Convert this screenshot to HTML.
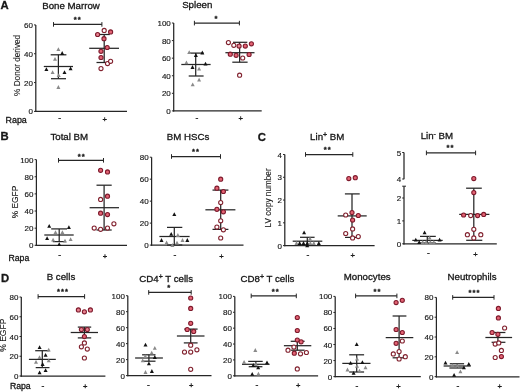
<!DOCTYPE html>
<html><head><meta charset="utf-8"><style>
html,body{margin:0;padding:0;background:#fff;}
svg{display:block;font-family:"Liberation Sans", sans-serif;will-change:transform;}
</style></head><body>
<svg width="520" height="392" viewBox="0 0 520 392">
<rect width="520" height="392" fill="#fff"/>
<line x1="35.80" y1="24.90" x2="35.80" y2="112.03" stroke="#262626" stroke-width="1.25"/>
<line x1="35.17" y1="111.40" x2="127.00" y2="111.40" stroke="#262626" stroke-width="1.25"/>
<line x1="34.00" y1="24.90" x2="35.80" y2="24.90" stroke="#262626" stroke-width="1.0"/>
<text x="32.90" y="27.90" font-size="8.0" text-anchor="end" font-weight="normal" fill="#161616" stroke="#161616" stroke-width="0.15" >60</text>
<line x1="34.00" y1="53.73" x2="35.80" y2="53.73" stroke="#262626" stroke-width="1.0"/>
<text x="32.90" y="56.74" font-size="8.0" text-anchor="end" font-weight="normal" fill="#161616" stroke="#161616" stroke-width="0.15" >40</text>
<line x1="34.00" y1="82.57" x2="35.80" y2="82.57" stroke="#262626" stroke-width="1.0"/>
<text x="32.90" y="85.57" font-size="8.0" text-anchor="end" font-weight="normal" fill="#161616" stroke="#161616" stroke-width="0.15" >20</text>
<line x1="34.00" y1="111.40" x2="35.80" y2="111.40" stroke="#262626" stroke-width="1.0"/>
<text x="32.90" y="114.40" font-size="8.0" text-anchor="end" font-weight="normal" fill="#161616" stroke="#161616" stroke-width="0.15" >0</text>
<text x="71.00" y="9.00" font-size="9.7" text-anchor="middle" font-weight="normal" fill="#161616" stroke="#161616" stroke-width="0.3" >Bone Marrow</text>
<line x1="53.50" y1="24.40" x2="101.90" y2="24.40" stroke="#262626" stroke-width="1.25"/>
<line x1="53.50" y1="22.10" x2="53.50" y2="26.70" stroke="#262626" stroke-width="1.0"/>
<line x1="101.90" y1="22.10" x2="101.90" y2="26.70" stroke="#262626" stroke-width="1.0"/>
<text x="75.20" y="22.22" font-size="7.6" text-anchor="middle" font-weight="bold" fill="#161616" stroke="#161616" stroke-width="0.3" >*</text>
<text x="79.20" y="22.22" font-size="7.6" text-anchor="middle" font-weight="bold" fill="#161616" stroke="#161616" stroke-width="0.3" >*</text>
<text x="59.60" y="121.26" font-size="8.5" text-anchor="middle" font-weight="normal" fill="#161616" stroke="#161616" stroke-width="0.3" >-</text>
<text x="104.80" y="121.72" font-size="7.6" text-anchor="middle" font-weight="normal" fill="#161616" stroke="#161616" stroke-width="0.3" >+</text>
<line x1="43.80" y1="66.50" x2="73.00" y2="66.50" stroke="#262626" stroke-width="1.25"/>
<line x1="50.70" y1="54.80" x2="66.40" y2="54.80" stroke="#262626" stroke-width="1.25"/>
<line x1="51.00" y1="78.70" x2="66.00" y2="78.70" stroke="#262626" stroke-width="1.25"/>
<line x1="58.40" y1="54.80" x2="58.40" y2="78.70" stroke="#262626" stroke-width="1.25"/>
<path d="M56.40,51.10L58.40,47.30L60.40,51.10Z" fill="#8a8a8a"/>
<path d="M60.20,54.90L62.20,51.10L64.20,54.90Z" fill="#121212"/>
<path d="M53.00,60.70L55.00,56.90L57.00,60.70Z" fill="#8a8a8a"/>
<path d="M44.40,71.00L46.40,67.20L48.40,71.00Z" fill="#121212"/>
<path d="M68.60,70.20L70.60,66.40L72.60,70.20Z" fill="#121212"/>
<path d="M50.60,74.00L52.60,70.20L54.60,74.00Z" fill="#8a8a8a"/>
<path d="M62.50,74.00L64.50,70.20L66.50,74.00Z" fill="#121212"/>
<path d="M56.70,77.10L58.70,73.30L60.70,77.10Z" fill="#8a8a8a"/>
<path d="M56.40,88.90L58.40,85.10L60.40,88.90Z" fill="#8a8a8a"/>
<line x1="89.20" y1="48.30" x2="119.00" y2="48.30" stroke="#262626" stroke-width="1.25"/>
<line x1="98.30" y1="34.50" x2="109.80" y2="34.50" stroke="#262626" stroke-width="1.25"/>
<line x1="96.50" y1="62.50" x2="111.30" y2="62.50" stroke="#262626" stroke-width="1.25"/>
<line x1="104.20" y1="34.50" x2="104.20" y2="62.50" stroke="#262626" stroke-width="1.25"/>
<circle cx="104.2" cy="30.4" r="2.05" fill="#ffffff" stroke="#82222f" stroke-width="1.1"/>
<circle cx="97.6" cy="34.5" r="2.05" fill="#e98290" stroke="#7e1a2c" stroke-width="1.1"/>
<circle cx="110.6" cy="31.9" r="2.05" fill="#e46474" stroke="#7e1a2c" stroke-width="1.1"/>
<circle cx="104" cy="38.7" r="2.05" fill="#e46474" stroke="#7e1a2c" stroke-width="1.1"/>
<circle cx="107.2" cy="47.5" r="2.05" fill="#e46474" stroke="#7e1a2c" stroke-width="1.1"/>
<circle cx="101" cy="51.3" r="2.05" fill="#e46474" stroke="#7e1a2c" stroke-width="1.1"/>
<circle cx="101" cy="57.5" r="2.05" fill="#e46474" stroke="#7e1a2c" stroke-width="1.1"/>
<circle cx="107.5" cy="63.6" r="2.05" fill="#ffffff" stroke="#82222f" stroke-width="1.1"/>
<circle cx="110.6" cy="61.3" r="2.05" fill="#ffffff" stroke="#82222f" stroke-width="1.1"/>
<circle cx="101" cy="68.6" r="2.05" fill="#ffffff" stroke="#82222f" stroke-width="1.1"/>
<line x1="173.70" y1="23.00" x2="173.70" y2="111.53" stroke="#262626" stroke-width="1.25"/>
<line x1="173.07" y1="110.90" x2="261.70" y2="110.90" stroke="#262626" stroke-width="1.25"/>
<line x1="171.90" y1="23.00" x2="173.70" y2="23.00" stroke="#262626" stroke-width="1.0"/>
<text x="170.80" y="26.00" font-size="8.0" text-anchor="end" font-weight="normal" fill="#161616" stroke="#161616" stroke-width="0.15" >100</text>
<line x1="171.90" y1="40.58" x2="173.70" y2="40.58" stroke="#262626" stroke-width="1.0"/>
<text x="170.80" y="43.58" font-size="8.0" text-anchor="end" font-weight="normal" fill="#161616" stroke="#161616" stroke-width="0.15" >80</text>
<line x1="171.90" y1="58.16" x2="173.70" y2="58.16" stroke="#262626" stroke-width="1.0"/>
<text x="170.80" y="61.16" font-size="8.0" text-anchor="end" font-weight="normal" fill="#161616" stroke="#161616" stroke-width="0.15" >60</text>
<line x1="171.90" y1="75.74" x2="173.70" y2="75.74" stroke="#262626" stroke-width="1.0"/>
<text x="170.80" y="78.74" font-size="8.0" text-anchor="end" font-weight="normal" fill="#161616" stroke="#161616" stroke-width="0.15" >40</text>
<line x1="171.90" y1="93.32" x2="173.70" y2="93.32" stroke="#262626" stroke-width="1.0"/>
<text x="170.80" y="96.32" font-size="8.0" text-anchor="end" font-weight="normal" fill="#161616" stroke="#161616" stroke-width="0.15" >20</text>
<line x1="171.90" y1="110.90" x2="173.70" y2="110.90" stroke="#262626" stroke-width="1.0"/>
<text x="170.80" y="113.90" font-size="8.0" text-anchor="end" font-weight="normal" fill="#161616" stroke="#161616" stroke-width="0.15" >0</text>
<text x="197.25" y="8.20" font-size="9.7" text-anchor="middle" font-weight="normal" fill="#161616" stroke="#161616" stroke-width="0.3" >Spleen</text>
<line x1="194.40" y1="23.10" x2="239.40" y2="23.10" stroke="#262626" stroke-width="1.25"/>
<line x1="194.40" y1="20.80" x2="194.40" y2="25.40" stroke="#262626" stroke-width="1.0"/>
<line x1="239.40" y1="20.80" x2="239.40" y2="25.40" stroke="#262626" stroke-width="1.0"/>
<text x="216.00" y="21.22" font-size="7.6" text-anchor="middle" font-weight="bold" fill="#161616" stroke="#161616" stroke-width="0.3" >*</text>
<text x="197.00" y="121.26" font-size="8.5" text-anchor="middle" font-weight="normal" fill="#161616" stroke="#161616" stroke-width="0.3" >-</text>
<text x="240.60" y="120.82" font-size="7.6" text-anchor="middle" font-weight="normal" fill="#161616" stroke="#161616" stroke-width="0.3" >+</text>
<line x1="181.30" y1="64.50" x2="210.60" y2="64.50" stroke="#262626" stroke-width="1.25"/>
<line x1="189.20" y1="53.10" x2="203.60" y2="53.10" stroke="#262626" stroke-width="1.25"/>
<line x1="188.70" y1="76.00" x2="203.60" y2="76.00" stroke="#262626" stroke-width="1.25"/>
<line x1="195.70" y1="53.10" x2="195.70" y2="76.00" stroke="#262626" stroke-width="1.25"/>
<path d="M187.20,54.00L189.20,50.20L191.20,54.00Z" fill="#8a8a8a"/>
<path d="M200.30,54.40L202.30,50.60L204.30,54.40Z" fill="#121212"/>
<path d="M193.90,56.90L195.90,53.10L197.90,56.90Z" fill="#121212"/>
<path d="M184.40,64.20L186.40,60.40L188.40,64.20Z" fill="#8a8a8a"/>
<path d="M203.50,65.50L205.50,61.70L207.50,65.50Z" fill="#121212"/>
<path d="M190.50,68.90L192.50,65.10L194.50,68.90Z" fill="#121212"/>
<path d="M197.10,70.60L199.10,66.80L201.10,70.60Z" fill="#8a8a8a"/>
<path d="M197.10,81.60L199.10,77.80L201.10,81.60Z" fill="#8a8a8a"/>
<path d="M190.70,86.20L192.70,82.40L194.70,86.20Z" fill="#8a8a8a"/>
<line x1="225.40" y1="52.70" x2="254.50" y2="52.70" stroke="#262626" stroke-width="1.25"/>
<line x1="233.00" y1="42.30" x2="247.30" y2="42.30" stroke="#262626" stroke-width="1.25"/>
<line x1="232.30" y1="62.20" x2="247.60" y2="62.20" stroke="#262626" stroke-width="1.25"/>
<line x1="239.60" y1="42.30" x2="239.60" y2="62.20" stroke="#262626" stroke-width="1.25"/>
<circle cx="228.4" cy="42.6" r="2.05" fill="#ffffff" stroke="#82222f" stroke-width="1.1"/>
<circle cx="233.8" cy="45.3" r="2.05" fill="#ffffff" stroke="#82222f" stroke-width="1.1"/>
<circle cx="239.1" cy="46.1" r="2.05" fill="#e98290" stroke="#7e1a2c" stroke-width="1.1"/>
<circle cx="245.3" cy="46.1" r="2.05" fill="#e46474" stroke="#7e1a2c" stroke-width="1.1"/>
<circle cx="251.4" cy="43.8" r="2.05" fill="#e46474" stroke="#7e1a2c" stroke-width="1.1"/>
<circle cx="230.3" cy="54.2" r="2.05" fill="#e46474" stroke="#7e1a2c" stroke-width="1.1"/>
<circle cx="236.1" cy="55.3" r="2.05" fill="#e46474" stroke="#7e1a2c" stroke-width="1.1"/>
<circle cx="242.7" cy="58" r="2.05" fill="#ffffff" stroke="#82222f" stroke-width="1.1"/>
<circle cx="249.1" cy="54.5" r="2.05" fill="#e46474" stroke="#7e1a2c" stroke-width="1.1"/>
<circle cx="239.6" cy="75.2" r="2.05" fill="#ffffff" stroke="#82222f" stroke-width="1.1"/>
<line x1="36.40" y1="159.60" x2="36.40" y2="245.93" stroke="#262626" stroke-width="1.25"/>
<line x1="35.77" y1="245.30" x2="127.00" y2="245.30" stroke="#262626" stroke-width="1.25"/>
<line x1="34.60" y1="159.60" x2="36.40" y2="159.60" stroke="#262626" stroke-width="1.0"/>
<text x="33.50" y="162.60" font-size="8.0" text-anchor="end" font-weight="normal" fill="#161616" stroke="#161616" stroke-width="0.15" >100</text>
<line x1="34.60" y1="176.74" x2="36.40" y2="176.74" stroke="#262626" stroke-width="1.0"/>
<text x="33.50" y="179.74" font-size="8.0" text-anchor="end" font-weight="normal" fill="#161616" stroke="#161616" stroke-width="0.15" >80</text>
<line x1="34.60" y1="193.88" x2="36.40" y2="193.88" stroke="#262626" stroke-width="1.0"/>
<text x="33.50" y="196.88" font-size="8.0" text-anchor="end" font-weight="normal" fill="#161616" stroke="#161616" stroke-width="0.15" >60</text>
<line x1="34.60" y1="211.02" x2="36.40" y2="211.02" stroke="#262626" stroke-width="1.0"/>
<text x="33.50" y="214.02" font-size="8.0" text-anchor="end" font-weight="normal" fill="#161616" stroke="#161616" stroke-width="0.15" >40</text>
<line x1="34.60" y1="228.16" x2="36.40" y2="228.16" stroke="#262626" stroke-width="1.0"/>
<text x="33.50" y="231.16" font-size="8.0" text-anchor="end" font-weight="normal" fill="#161616" stroke="#161616" stroke-width="0.15" >20</text>
<line x1="34.60" y1="245.30" x2="36.40" y2="245.30" stroke="#262626" stroke-width="1.0"/>
<text x="33.50" y="248.30" font-size="8.0" text-anchor="end" font-weight="normal" fill="#161616" stroke="#161616" stroke-width="0.15" >0</text>
<text x="69.25" y="140.30" font-size="9.7" text-anchor="middle" font-weight="normal" fill="#161616" stroke="#161616" stroke-width="0.3" >Total BM</text>
<line x1="58.50" y1="160.30" x2="103.50" y2="160.30" stroke="#262626" stroke-width="1.25"/>
<line x1="58.50" y1="158.00" x2="58.50" y2="162.60" stroke="#262626" stroke-width="1.0"/>
<line x1="103.50" y1="158.00" x2="103.50" y2="162.60" stroke="#262626" stroke-width="1.0"/>
<text x="79.20" y="158.82" font-size="7.6" text-anchor="middle" font-weight="bold" fill="#161616" stroke="#161616" stroke-width="0.3" >*</text>
<text x="83.20" y="158.82" font-size="7.6" text-anchor="middle" font-weight="bold" fill="#161616" stroke="#161616" stroke-width="0.3" >*</text>
<text x="59.60" y="257.66" font-size="8.5" text-anchor="middle" font-weight="normal" fill="#161616" stroke="#161616" stroke-width="0.3" >-</text>
<text x="105.00" y="258.62" font-size="7.6" text-anchor="middle" font-weight="normal" fill="#161616" stroke="#161616" stroke-width="0.3" >+</text>
<line x1="44.30" y1="235.00" x2="73.70" y2="235.00" stroke="#262626" stroke-width="1.25"/>
<line x1="51.20" y1="228.90" x2="67.00" y2="228.90" stroke="#262626" stroke-width="1.25"/>
<line x1="52.80" y1="241.60" x2="66.00" y2="241.60" stroke="#262626" stroke-width="1.25"/>
<line x1="59.20" y1="228.90" x2="59.20" y2="241.60" stroke="#262626" stroke-width="1.25"/>
<path d="M47.20,227.70L49.20,223.90L51.20,227.70Z" fill="#121212"/>
<path d="M66.90,229.00L68.90,225.20L70.90,229.00Z" fill="#121212"/>
<path d="M53.50,234.10L55.50,230.30L57.50,234.10Z" fill="#8a8a8a"/>
<path d="M60.40,234.10L62.40,230.30L64.40,234.10Z" fill="#8a8a8a"/>
<path d="M45.10,240.00L47.10,236.20L49.10,240.00Z" fill="#121212"/>
<path d="M51.10,241.50L53.10,237.70L55.10,241.50Z" fill="#8a8a8a"/>
<path d="M63.00,242.50L65.00,238.70L67.00,242.50Z" fill="#8a8a8a"/>
<path d="M68.60,241.00L70.60,237.20L72.60,241.00Z" fill="#8a8a8a"/>
<path d="M57.20,246.10L59.20,242.30L61.20,246.10Z" fill="#121212"/>
<line x1="89.60" y1="207.70" x2="119.00" y2="207.70" stroke="#262626" stroke-width="1.25"/>
<line x1="96.50" y1="185.20" x2="111.70" y2="185.20" stroke="#262626" stroke-width="1.25"/>
<line x1="96.50" y1="230.00" x2="111.70" y2="230.00" stroke="#262626" stroke-width="1.25"/>
<line x1="104.10" y1="185.20" x2="104.10" y2="230.00" stroke="#262626" stroke-width="1.25"/>
<circle cx="100.6" cy="170.3" r="2.05" fill="#e46474" stroke="#7e1a2c" stroke-width="1.1"/>
<circle cx="107.5" cy="171.9" r="2.05" fill="#e46474" stroke="#7e1a2c" stroke-width="1.1"/>
<circle cx="107.5" cy="196.2" r="2.05" fill="#e46474" stroke="#7e1a2c" stroke-width="1.1"/>
<circle cx="100.6" cy="199.4" r="2.05" fill="#ffffff" stroke="#82222f" stroke-width="1.1"/>
<circle cx="100.6" cy="213.2" r="2.05" fill="#e46474" stroke="#7e1a2c" stroke-width="1.1"/>
<circle cx="107.5" cy="214.6" r="2.05" fill="#e46474" stroke="#7e1a2c" stroke-width="1.1"/>
<circle cx="113.9" cy="223.8" r="2.05" fill="#ffffff" stroke="#82222f" stroke-width="1.1"/>
<circle cx="94.2" cy="228.1" r="2.05" fill="#ffffff" stroke="#82222f" stroke-width="1.1"/>
<circle cx="100.6" cy="229.3" r="2.05" fill="#ffffff" stroke="#82222f" stroke-width="1.1"/>
<circle cx="107.5" cy="228.1" r="2.05" fill="#ffffff" stroke="#82222f" stroke-width="1.1"/>
<line x1="151.60" y1="157.20" x2="151.60" y2="245.72" stroke="#262626" stroke-width="1.25"/>
<line x1="150.97" y1="245.10" x2="243.50" y2="245.10" stroke="#262626" stroke-width="1.25"/>
<line x1="149.80" y1="157.20" x2="151.60" y2="157.20" stroke="#262626" stroke-width="1.0"/>
<text x="148.70" y="160.20" font-size="8.0" text-anchor="end" font-weight="normal" fill="#161616" stroke="#161616" stroke-width="0.15" >80</text>
<line x1="149.80" y1="179.17" x2="151.60" y2="179.17" stroke="#262626" stroke-width="1.0"/>
<text x="148.70" y="182.18" font-size="8.0" text-anchor="end" font-weight="normal" fill="#161616" stroke="#161616" stroke-width="0.15" >60</text>
<line x1="149.80" y1="201.15" x2="151.60" y2="201.15" stroke="#262626" stroke-width="1.0"/>
<text x="148.70" y="204.15" font-size="8.0" text-anchor="end" font-weight="normal" fill="#161616" stroke="#161616" stroke-width="0.15" >40</text>
<line x1="149.80" y1="223.12" x2="151.60" y2="223.12" stroke="#262626" stroke-width="1.0"/>
<text x="148.70" y="226.13" font-size="8.0" text-anchor="end" font-weight="normal" fill="#161616" stroke="#161616" stroke-width="0.15" >20</text>
<line x1="149.80" y1="245.10" x2="151.60" y2="245.10" stroke="#262626" stroke-width="1.0"/>
<text x="148.70" y="248.10" font-size="8.0" text-anchor="end" font-weight="normal" fill="#161616" stroke="#161616" stroke-width="0.15" >0</text>
<text x="188.00" y="139.50" font-size="9.7" text-anchor="middle" font-weight="normal" fill="#161616" stroke="#161616" stroke-width="0.3" >BM HSCs</text>
<line x1="171.50" y1="156.50" x2="220.50" y2="156.50" stroke="#262626" stroke-width="1.25"/>
<line x1="171.50" y1="154.20" x2="171.50" y2="158.80" stroke="#262626" stroke-width="1.0"/>
<line x1="220.50" y1="154.20" x2="220.50" y2="158.80" stroke="#262626" stroke-width="1.0"/>
<text x="193.60" y="153.82" font-size="7.6" text-anchor="middle" font-weight="bold" fill="#161616" stroke="#161616" stroke-width="0.3" >*</text>
<text x="197.60" y="153.82" font-size="7.6" text-anchor="middle" font-weight="bold" fill="#161616" stroke="#161616" stroke-width="0.3" >*</text>
<text x="174.90" y="257.56" font-size="8.5" text-anchor="middle" font-weight="normal" fill="#161616" stroke="#161616" stroke-width="0.3" >-</text>
<text x="221.50" y="258.62" font-size="7.6" text-anchor="middle" font-weight="normal" fill="#161616" stroke="#161616" stroke-width="0.3" >+</text>
<line x1="159.40" y1="236.50" x2="189.60" y2="236.50" stroke="#262626" stroke-width="1.25"/>
<line x1="167.00" y1="227.40" x2="182.30" y2="227.40" stroke="#262626" stroke-width="1.25"/>
<line x1="167.00" y1="245.00" x2="182.30" y2="245.00" stroke="#262626" stroke-width="1.25"/>
<line x1="174.30" y1="227.40" x2="174.30" y2="245.00" stroke="#262626" stroke-width="1.25"/>
<path d="M172.30,216.10L174.30,212.30L176.30,216.10Z" fill="#121212"/>
<path d="M169.20,235.80L171.20,232.00L173.20,235.80Z" fill="#121212"/>
<path d="M175.90,236.90L177.90,233.10L179.90,236.90Z" fill="#8a8a8a"/>
<path d="M159.50,241.90L161.50,238.10L163.50,241.90Z" fill="#121212"/>
<path d="M180.50,241.90L182.50,238.10L184.50,241.90Z" fill="#8a8a8a"/>
<path d="M185.30,241.90L187.30,238.10L189.30,241.90Z" fill="#121212"/>
<path d="M164.60,244.20L166.60,240.40L168.60,244.20Z" fill="#8a8a8a"/>
<path d="M175.00,244.50L177.00,240.70L179.00,244.50Z" fill="#8a8a8a"/>
<path d="M170.40,246.90L172.40,243.10L174.40,246.90Z" fill="#8a8a8a"/>
<line x1="205.40" y1="209.80" x2="235.40" y2="209.80" stroke="#262626" stroke-width="1.25"/>
<line x1="212.50" y1="190.10" x2="228.40" y2="190.10" stroke="#262626" stroke-width="1.25"/>
<line x1="212.50" y1="229.40" x2="228.40" y2="229.40" stroke="#262626" stroke-width="1.25"/>
<line x1="220.70" y1="190.10" x2="220.70" y2="229.40" stroke="#262626" stroke-width="1.25"/>
<circle cx="220.7" cy="179.2" r="2.05" fill="#e46474" stroke="#7e1a2c" stroke-width="1.1"/>
<circle cx="216.9" cy="188.2" r="2.05" fill="#e46474" stroke="#7e1a2c" stroke-width="1.1"/>
<circle cx="223.4" cy="191.5" r="2.05" fill="#e46474" stroke="#7e1a2c" stroke-width="1.1"/>
<circle cx="220.7" cy="202.6" r="2.05" fill="#ffffff" stroke="#82222f" stroke-width="1.1"/>
<circle cx="216.9" cy="209.3" r="2.05" fill="#e46474" stroke="#7e1a2c" stroke-width="1.1"/>
<circle cx="223.4" cy="211.8" r="2.05" fill="#e46474" stroke="#7e1a2c" stroke-width="1.1"/>
<circle cx="220.7" cy="220.8" r="2.05" fill="#ffffff" stroke="#82222f" stroke-width="1.1"/>
<circle cx="216.9" cy="227.1" r="2.05" fill="#ffffff" stroke="#82222f" stroke-width="1.1"/>
<circle cx="223.4" cy="229.8" r="2.05" fill="#ffffff" stroke="#82222f" stroke-width="1.1"/>
<circle cx="220.7" cy="238" r="2.05" fill="#ffffff" stroke="#82222f" stroke-width="1.1"/>
<line x1="284.80" y1="154.50" x2="284.80" y2="246.22" stroke="#262626" stroke-width="1.25"/>
<line x1="284.18" y1="245.60" x2="374.60" y2="245.60" stroke="#262626" stroke-width="1.25"/>
<line x1="283.00" y1="154.50" x2="284.80" y2="154.50" stroke="#262626" stroke-width="1.0"/>
<text x="281.90" y="157.50" font-size="8.0" text-anchor="end" font-weight="normal" fill="#161616" stroke="#161616" stroke-width="0.15" >4</text>
<line x1="283.00" y1="177.28" x2="284.80" y2="177.28" stroke="#262626" stroke-width="1.0"/>
<text x="281.90" y="180.28" font-size="8.0" text-anchor="end" font-weight="normal" fill="#161616" stroke="#161616" stroke-width="0.15" >3</text>
<line x1="283.00" y1="200.05" x2="284.80" y2="200.05" stroke="#262626" stroke-width="1.0"/>
<text x="281.90" y="203.05" font-size="8.0" text-anchor="end" font-weight="normal" fill="#161616" stroke="#161616" stroke-width="0.15" >2</text>
<line x1="283.00" y1="222.82" x2="284.80" y2="222.82" stroke="#262626" stroke-width="1.0"/>
<text x="281.90" y="225.83" font-size="8.0" text-anchor="end" font-weight="normal" fill="#161616" stroke="#161616" stroke-width="0.15" >1</text>
<line x1="283.00" y1="245.60" x2="284.80" y2="245.60" stroke="#262626" stroke-width="1.0"/>
<text x="281.90" y="248.60" font-size="8.0" text-anchor="end" font-weight="normal" fill="#161616" stroke="#161616" stroke-width="0.15" >0</text>
<text x="327.25" y="139.80" font-size="9.7" text-anchor="middle" font-weight="normal" fill="#161616" stroke="#161616" stroke-width="0.3" >Lin<tspan font-size="7" dy="-2.6">+</tspan><tspan dy="2.6"> BM</tspan></text>
<line x1="305.50" y1="154.50" x2="352.80" y2="154.50" stroke="#262626" stroke-width="1.25"/>
<line x1="305.50" y1="152.20" x2="305.50" y2="156.80" stroke="#262626" stroke-width="1.0"/>
<line x1="352.80" y1="152.20" x2="352.80" y2="156.80" stroke="#262626" stroke-width="1.0"/>
<text x="325.20" y="152.42" font-size="7.6" text-anchor="middle" font-weight="bold" fill="#161616" stroke="#161616" stroke-width="0.3" >*</text>
<text x="329.20" y="152.42" font-size="7.6" text-anchor="middle" font-weight="bold" fill="#161616" stroke="#161616" stroke-width="0.3" >*</text>
<text x="308.00" y="257.66" font-size="8.5" text-anchor="middle" font-weight="normal" fill="#161616" stroke="#161616" stroke-width="0.3" >-</text>
<text x="352.80" y="258.22" font-size="7.6" text-anchor="middle" font-weight="normal" fill="#161616" stroke="#161616" stroke-width="0.3" >+</text>
<line x1="292.70" y1="241.20" x2="322.30" y2="241.20" stroke="#262626" stroke-width="1.25"/>
<line x1="300.00" y1="237.30" x2="314.60" y2="237.30" stroke="#262626" stroke-width="1.25"/>
<line x1="300.00" y1="245.00" x2="314.60" y2="245.00" stroke="#262626" stroke-width="1.25"/>
<line x1="307.30" y1="237.30" x2="307.30" y2="245.00" stroke="#262626" stroke-width="1.25"/>
<path d="M302.10,234.20L304.10,230.40L306.10,234.20Z" fill="#121212"/>
<path d="M308.00,240.40L310.00,236.60L312.00,240.40Z" fill="#8a8a8a"/>
<path d="M294.50,244.90L296.50,241.10L298.50,244.90Z" fill="#8a8a8a"/>
<path d="M297.60,244.90L299.60,241.10L301.60,244.90Z" fill="#121212"/>
<path d="M301.50,244.90L303.50,241.10L305.50,244.90Z" fill="#121212"/>
<path d="M305.30,244.90L307.30,241.10L309.30,244.90Z" fill="#121212"/>
<path d="M308.40,244.90L310.40,241.10L312.40,244.90Z" fill="#8a8a8a"/>
<path d="M311.80,244.90L313.80,241.10L315.80,244.90Z" fill="#8a8a8a"/>
<path d="M316.80,244.90L318.80,241.10L320.80,244.90Z" fill="#121212"/>
<path d="M305.20,247.30L307.20,243.50L309.20,247.30Z" fill="#121212"/>
<line x1="337.70" y1="215.90" x2="366.70" y2="215.90" stroke="#262626" stroke-width="1.25"/>
<line x1="344.90" y1="193.90" x2="359.70" y2="193.90" stroke="#262626" stroke-width="1.25"/>
<line x1="345.00" y1="237.40" x2="360.00" y2="237.40" stroke="#262626" stroke-width="1.25"/>
<line x1="352.00" y1="193.90" x2="352.00" y2="237.40" stroke="#262626" stroke-width="1.25"/>
<circle cx="348.8" cy="178.6" r="2.05" fill="#e46474" stroke="#7e1a2c" stroke-width="1.1"/>
<circle cx="355.3" cy="177.7" r="2.05" fill="#e46474" stroke="#7e1a2c" stroke-width="1.1"/>
<circle cx="352" cy="212.5" r="2.05" fill="#e46474" stroke="#7e1a2c" stroke-width="1.1"/>
<circle cx="345.7" cy="215" r="2.05" fill="#ffffff" stroke="#82222f" stroke-width="1.1"/>
<circle cx="358.3" cy="215.5" r="2.05" fill="#e46474" stroke="#7e1a2c" stroke-width="1.1"/>
<circle cx="352.6" cy="220.1" r="2.05" fill="#e46474" stroke="#7e1a2c" stroke-width="1.1"/>
<circle cx="352.6" cy="228.9" r="2.05" fill="#ffffff" stroke="#82222f" stroke-width="1.1"/>
<circle cx="345.7" cy="233.5" r="2.05" fill="#ffffff" stroke="#82222f" stroke-width="1.1"/>
<circle cx="352.6" cy="237.9" r="2.05" fill="#ffffff" stroke="#82222f" stroke-width="1.1"/>
<circle cx="358.3" cy="236.6" r="2.05" fill="#ffffff" stroke="#82222f" stroke-width="1.1"/>
<line x1="404.00" y1="152.50" x2="404.00" y2="179.20" stroke="#262626" stroke-width="1.25"/>
<line x1="404.00" y1="186.20" x2="404.00" y2="244.40" stroke="#262626" stroke-width="1.25"/>
<line x1="403.38" y1="243.80" x2="496.80" y2="243.80" stroke="#262626" stroke-width="1.25"/>
<line x1="402.20" y1="152.50" x2="404.00" y2="152.50" stroke="#262626" stroke-width="1.0"/>
<text x="401.10" y="155.50" font-size="8.0" text-anchor="end" font-weight="normal" fill="#161616" stroke="#161616" stroke-width="0.15" >5</text>
<line x1="402.20" y1="179.00" x2="404.00" y2="179.00" stroke="#262626" stroke-width="1.0"/>
<text x="401.10" y="182.00" font-size="8.0" text-anchor="end" font-weight="normal" fill="#161616" stroke="#161616" stroke-width="0.15" >4</text>
<line x1="402.20" y1="198.00" x2="404.00" y2="198.00" stroke="#262626" stroke-width="1.0"/>
<text x="401.10" y="201.00" font-size="8.0" text-anchor="end" font-weight="normal" fill="#161616" stroke="#161616" stroke-width="0.15" >2</text>
<line x1="402.20" y1="220.90" x2="404.00" y2="220.90" stroke="#262626" stroke-width="1.0"/>
<text x="401.10" y="223.90" font-size="8.0" text-anchor="end" font-weight="normal" fill="#161616" stroke="#161616" stroke-width="0.15" >1</text>
<line x1="402.20" y1="243.80" x2="404.00" y2="243.80" stroke="#262626" stroke-width="1.0"/>
<text x="401.10" y="246.80" font-size="8.0" text-anchor="end" font-weight="normal" fill="#161616" stroke="#161616" stroke-width="0.15" >0</text>
<line x1="402.20" y1="186.20" x2="406.00" y2="186.20" stroke="#262626" stroke-width="1.0"/>
<text x="436.90" y="139.00" font-size="9.7" text-anchor="middle" font-weight="normal" fill="#161616" stroke="#161616" stroke-width="0.3" >Lin<tspan font-size="7" dy="-2.6">-</tspan><tspan dy="2.6"> BM</tspan></text>
<line x1="426.40" y1="152.90" x2="475.60" y2="152.90" stroke="#262626" stroke-width="1.25"/>
<line x1="426.40" y1="150.60" x2="426.40" y2="155.20" stroke="#262626" stroke-width="1.0"/>
<line x1="475.60" y1="150.60" x2="475.60" y2="155.20" stroke="#262626" stroke-width="1.0"/>
<text x="448.00" y="150.12" font-size="7.6" text-anchor="middle" font-weight="bold" fill="#161616" stroke="#161616" stroke-width="0.3" >*</text>
<text x="452.00" y="150.12" font-size="7.6" text-anchor="middle" font-weight="bold" fill="#161616" stroke="#161616" stroke-width="0.3" >*</text>
<text x="428.50" y="256.06" font-size="8.5" text-anchor="middle" font-weight="normal" fill="#161616" stroke="#161616" stroke-width="0.3" >-</text>
<text x="475.40" y="256.72" font-size="7.6" text-anchor="middle" font-weight="normal" fill="#161616" stroke="#161616" stroke-width="0.3" >+</text>
<line x1="412.30" y1="240.40" x2="442.70" y2="240.40" stroke="#262626" stroke-width="1.25"/>
<line x1="420.00" y1="236.40" x2="435.80" y2="236.40" stroke="#262626" stroke-width="1.25"/>
<line x1="420.00" y1="243.00" x2="435.80" y2="243.00" stroke="#262626" stroke-width="1.25"/>
<line x1="427.30" y1="236.40" x2="427.30" y2="243.00" stroke="#262626" stroke-width="1.25"/>
<path d="M422.60,234.20L424.60,230.40L426.60,234.20Z" fill="#121212"/>
<path d="M427.60,239.60L429.60,235.80L431.60,239.60Z" fill="#8a8a8a"/>
<path d="M413.80,241.50L415.80,237.70L417.80,241.50Z" fill="#121212"/>
<path d="M437.60,241.50L439.60,237.70L441.60,241.50Z" fill="#121212"/>
<path d="M417.20,243.90L419.20,240.10L421.20,243.90Z" fill="#121212"/>
<path d="M420.70,243.90L422.70,240.10L424.70,243.90Z" fill="#8a8a8a"/>
<path d="M424.20,243.90L426.20,240.10L428.20,243.90Z" fill="#8a8a8a"/>
<path d="M428.40,243.90L430.40,240.10L432.40,243.90Z" fill="#8a8a8a"/>
<path d="M431.80,243.90L433.80,240.10L435.80,243.90Z" fill="#8a8a8a"/>
<line x1="459.20" y1="214.40" x2="489.40" y2="214.40" stroke="#262626" stroke-width="1.25"/>
<line x1="466.10" y1="188.20" x2="481.80" y2="188.20" stroke="#262626" stroke-width="1.25"/>
<line x1="466.20" y1="240.30" x2="482.30" y2="240.30" stroke="#262626" stroke-width="1.25"/>
<line x1="473.80" y1="188.20" x2="473.80" y2="240.30" stroke="#262626" stroke-width="1.25"/>
<circle cx="473.8" cy="178.6" r="2.05" fill="#e46474" stroke="#7e1a2c" stroke-width="1.1"/>
<circle cx="473.8" cy="192.6" r="2.05" fill="#e46474" stroke="#7e1a2c" stroke-width="1.1"/>
<circle cx="463.6" cy="215" r="2.05" fill="#e46474" stroke="#7e1a2c" stroke-width="1.1"/>
<circle cx="470.7" cy="215.6" r="2.05" fill="#ffffff" stroke="#82222f" stroke-width="1.1"/>
<circle cx="477.6" cy="215.6" r="2.05" fill="#e46474" stroke="#7e1a2c" stroke-width="1.1"/>
<circle cx="483.7" cy="214.4" r="2.05" fill="#e46474" stroke="#7e1a2c" stroke-width="1.1"/>
<circle cx="473.8" cy="229.3" r="2.05" fill="#ffffff" stroke="#82222f" stroke-width="1.1"/>
<circle cx="467.4" cy="234.7" r="2.05" fill="#ffffff" stroke="#82222f" stroke-width="1.1"/>
<circle cx="480.8" cy="234.7" r="2.05" fill="#ffffff" stroke="#82222f" stroke-width="1.1"/>
<circle cx="473.8" cy="237.9" r="2.05" fill="#ffffff" stroke="#82222f" stroke-width="1.1"/>
<line x1="21.30" y1="297.00" x2="21.30" y2="376.82" stroke="#262626" stroke-width="1.25"/>
<line x1="20.68" y1="376.20" x2="105.40" y2="376.20" stroke="#262626" stroke-width="1.25"/>
<line x1="19.50" y1="297.00" x2="21.30" y2="297.00" stroke="#262626" stroke-width="1.0"/>
<text x="18.40" y="300.00" font-size="8.0" text-anchor="end" font-weight="normal" fill="#161616" stroke="#161616" stroke-width="0.15" >80</text>
<line x1="19.50" y1="316.75" x2="21.30" y2="316.75" stroke="#262626" stroke-width="1.0"/>
<text x="18.40" y="319.75" font-size="8.0" text-anchor="end" font-weight="normal" fill="#161616" stroke="#161616" stroke-width="0.15" >60</text>
<line x1="19.50" y1="336.50" x2="21.30" y2="336.50" stroke="#262626" stroke-width="1.0"/>
<text x="18.40" y="339.50" font-size="8.0" text-anchor="end" font-weight="normal" fill="#161616" stroke="#161616" stroke-width="0.15" >40</text>
<line x1="19.50" y1="356.25" x2="21.30" y2="356.25" stroke="#262626" stroke-width="1.0"/>
<text x="18.40" y="359.25" font-size="8.0" text-anchor="end" font-weight="normal" fill="#161616" stroke="#161616" stroke-width="0.15" >20</text>
<line x1="19.50" y1="376.00" x2="21.30" y2="376.00" stroke="#262626" stroke-width="1.0"/>
<text x="18.40" y="379.00" font-size="8.0" text-anchor="end" font-weight="normal" fill="#161616" stroke="#161616" stroke-width="0.15" >0</text>
<text x="61.00" y="279.90" font-size="9.7" text-anchor="middle" font-weight="normal" fill="#161616" stroke="#161616" stroke-width="0.3" >B cells</text>
<line x1="38.10" y1="296.50" x2="84.60" y2="296.50" stroke="#262626" stroke-width="1.25"/>
<line x1="38.10" y1="294.20" x2="38.10" y2="298.80" stroke="#262626" stroke-width="1.0"/>
<line x1="84.60" y1="294.20" x2="84.60" y2="298.80" stroke="#262626" stroke-width="1.0"/>
<text x="58.50" y="294.42" font-size="7.6" text-anchor="middle" font-weight="bold" fill="#161616" stroke="#161616" stroke-width="0.3" >*</text>
<text x="62.50" y="294.42" font-size="7.6" text-anchor="middle" font-weight="bold" fill="#161616" stroke="#161616" stroke-width="0.3" >*</text>
<text x="66.50" y="294.42" font-size="7.6" text-anchor="middle" font-weight="bold" fill="#161616" stroke="#161616" stroke-width="0.3" >*</text>
<text x="42.90" y="388.66" font-size="8.5" text-anchor="middle" font-weight="normal" fill="#161616" stroke="#161616" stroke-width="0.3" >-</text>
<text x="85.20" y="388.72" font-size="7.6" text-anchor="middle" font-weight="normal" fill="#161616" stroke="#161616" stroke-width="0.3" >+</text>
<line x1="28.90" y1="359.40" x2="55.80" y2="359.40" stroke="#262626" stroke-width="1.25"/>
<line x1="35.20" y1="350.70" x2="49.50" y2="350.70" stroke="#262626" stroke-width="1.25"/>
<line x1="35.70" y1="367.60" x2="49.50" y2="367.60" stroke="#262626" stroke-width="1.25"/>
<line x1="42.30" y1="350.70" x2="42.30" y2="367.60" stroke="#262626" stroke-width="1.25"/>
<path d="M37.60,349.00L39.60,345.20L41.60,349.00Z" fill="#121212"/>
<path d="M46.70,351.60L48.70,347.80L50.70,351.60Z" fill="#8a8a8a"/>
<path d="M43.60,356.70L45.60,352.90L47.60,356.70Z" fill="#121212"/>
<path d="M37.50,359.00L39.50,355.20L41.50,359.00Z" fill="#8a8a8a"/>
<path d="M34.00,363.80L36.00,360.00L38.00,363.80Z" fill="#8a8a8a"/>
<path d="M46.70,362.30L48.70,358.50L50.70,362.30Z" fill="#8a8a8a"/>
<path d="M40.60,365.90L42.60,362.10L44.60,365.90Z" fill="#121212"/>
<path d="M43.60,372.00L45.60,368.20L47.60,372.00Z" fill="#121212"/>
<path d="M37.60,374.30L39.60,370.50L41.60,374.30Z" fill="#121212"/>
<line x1="70.70" y1="332.50" x2="98.00" y2="332.50" stroke="#262626" stroke-width="1.25"/>
<line x1="77.80" y1="327.10" x2="91.20" y2="327.10" stroke="#262626" stroke-width="1.25"/>
<line x1="77.80" y1="337.90" x2="91.20" y2="337.90" stroke="#262626" stroke-width="1.25"/>
<line x1="84.40" y1="327.10" x2="84.40" y2="337.90" stroke="#262626" stroke-width="1.25"/>
<circle cx="78.4" cy="309.9" r="2.05" fill="#e98290" stroke="#7e1a2c" stroke-width="1.1"/>
<circle cx="84.4" cy="311.8" r="2.05" fill="#e98290" stroke="#7e1a2c" stroke-width="1.1"/>
<circle cx="90.4" cy="309.9" r="2.05" fill="#e98290" stroke="#7e1a2c" stroke-width="1.1"/>
<circle cx="81.4" cy="329.5" r="2.05" fill="#e98290" stroke="#7e1a2c" stroke-width="1.1"/>
<circle cx="87.3" cy="329.5" r="2.05" fill="#e98290" stroke="#7e1a2c" stroke-width="1.1"/>
<circle cx="84.4" cy="336.6" r="2.05" fill="#e46474" stroke="#7e1a2c" stroke-width="1.1"/>
<circle cx="84.4" cy="342.9" r="2.05" fill="#ffffff" stroke="#82222f" stroke-width="1.1"/>
<circle cx="81.4" cy="346.8" r="2.05" fill="#ffffff" stroke="#82222f" stroke-width="1.1"/>
<circle cx="87.3" cy="349.1" r="2.05" fill="#ffffff" stroke="#82222f" stroke-width="1.1"/>
<circle cx="84.4" cy="358" r="2.05" fill="#ffffff" stroke="#82222f" stroke-width="1.1"/>
<line x1="127.80" y1="295.70" x2="127.80" y2="376.23" stroke="#262626" stroke-width="1.25"/>
<line x1="127.17" y1="375.60" x2="211.50" y2="375.60" stroke="#262626" stroke-width="1.25"/>
<line x1="126.00" y1="295.70" x2="127.80" y2="295.70" stroke="#262626" stroke-width="1.0"/>
<text x="124.90" y="298.70" font-size="8.0" text-anchor="end" font-weight="normal" fill="#161616" stroke="#161616" stroke-width="0.15" >100</text>
<line x1="126.00" y1="311.68" x2="127.80" y2="311.68" stroke="#262626" stroke-width="1.0"/>
<text x="124.90" y="314.68" font-size="8.0" text-anchor="end" font-weight="normal" fill="#161616" stroke="#161616" stroke-width="0.15" >80</text>
<line x1="126.00" y1="327.66" x2="127.80" y2="327.66" stroke="#262626" stroke-width="1.0"/>
<text x="124.90" y="330.66" font-size="8.0" text-anchor="end" font-weight="normal" fill="#161616" stroke="#161616" stroke-width="0.15" >60</text>
<line x1="126.00" y1="343.64" x2="127.80" y2="343.64" stroke="#262626" stroke-width="1.0"/>
<text x="124.90" y="346.64" font-size="8.0" text-anchor="end" font-weight="normal" fill="#161616" stroke="#161616" stroke-width="0.15" >40</text>
<line x1="126.00" y1="359.62" x2="127.80" y2="359.62" stroke="#262626" stroke-width="1.0"/>
<text x="124.90" y="362.62" font-size="8.0" text-anchor="end" font-weight="normal" fill="#161616" stroke="#161616" stroke-width="0.15" >20</text>
<line x1="126.00" y1="375.60" x2="127.80" y2="375.60" stroke="#262626" stroke-width="1.0"/>
<text x="124.90" y="378.60" font-size="8.0" text-anchor="end" font-weight="normal" fill="#161616" stroke="#161616" stroke-width="0.15" >0</text>
<text x="166.20" y="281.80" font-size="9.7" text-anchor="middle" font-weight="normal" fill="#161616" stroke="#161616" stroke-width="0.3" >CD4<tspan font-size="7" dy="-2.6">+</tspan><tspan dy="2.6"> T cells</tspan></text>
<line x1="148.70" y1="292.40" x2="191.20" y2="292.40" stroke="#262626" stroke-width="1.25"/>
<line x1="148.70" y1="290.10" x2="148.70" y2="294.70" stroke="#262626" stroke-width="1.0"/>
<line x1="191.20" y1="290.10" x2="191.20" y2="294.70" stroke="#262626" stroke-width="1.0"/>
<text x="168.80" y="290.02" font-size="7.6" text-anchor="middle" font-weight="bold" fill="#161616" stroke="#161616" stroke-width="0.3" >*</text>
<text x="148.50" y="387.76" font-size="8.5" text-anchor="middle" font-weight="normal" fill="#161616" stroke="#161616" stroke-width="0.3" >-</text>
<text x="191.20" y="388.32" font-size="7.6" text-anchor="middle" font-weight="normal" fill="#161616" stroke="#161616" stroke-width="0.3" >+</text>
<line x1="135.10" y1="358.00" x2="162.90" y2="358.00" stroke="#262626" stroke-width="1.25"/>
<line x1="142.10" y1="354.80" x2="155.50" y2="354.80" stroke="#262626" stroke-width="1.25"/>
<line x1="142.10" y1="361.20" x2="155.50" y2="361.20" stroke="#262626" stroke-width="1.25"/>
<line x1="148.90" y1="354.80" x2="148.90" y2="361.20" stroke="#262626" stroke-width="1.25"/>
<path d="M143.50,346.50L145.50,342.70L147.50,346.50Z" fill="#121212"/>
<path d="M152.80,349.70L154.80,345.90L156.80,349.70Z" fill="#8a8a8a"/>
<path d="M149.70,354.60L151.70,350.80L153.70,354.60Z" fill="#8a8a8a"/>
<path d="M152.80,358.90L154.80,355.10L156.80,358.90Z" fill="#121212"/>
<path d="M143.30,358.00L145.30,354.20L147.30,358.00Z" fill="#8a8a8a"/>
<path d="M140.70,362.20L142.70,358.40L144.70,362.20Z" fill="#8a8a8a"/>
<path d="M146.90,365.30L148.90,361.50L150.90,365.30Z" fill="#121212"/>
<path d="M143.50,373.90L145.50,370.10L147.50,373.90Z" fill="#8a8a8a"/>
<path d="M149.90,372.90L151.90,369.10L153.90,372.90Z" fill="#121212"/>
<line x1="176.90" y1="336.00" x2="204.50" y2="336.00" stroke="#262626" stroke-width="1.25"/>
<line x1="184.30" y1="329.10" x2="197.60" y2="329.10" stroke="#262626" stroke-width="1.25"/>
<line x1="183.80" y1="342.90" x2="197.60" y2="342.90" stroke="#262626" stroke-width="1.25"/>
<line x1="190.70" y1="329.10" x2="190.70" y2="342.90" stroke="#262626" stroke-width="1.25"/>
<circle cx="190.7" cy="298" r="2.05" fill="#e46474" stroke="#7e1a2c" stroke-width="1.1"/>
<circle cx="190.7" cy="308.4" r="2.05" fill="#e46474" stroke="#7e1a2c" stroke-width="1.1"/>
<circle cx="190.7" cy="323.3" r="2.05" fill="#e46474" stroke="#7e1a2c" stroke-width="1.1"/>
<circle cx="187.2" cy="329.5" r="2.05" fill="#e46474" stroke="#7e1a2c" stroke-width="1.1"/>
<circle cx="193.7" cy="331.4" r="2.05" fill="#e46474" stroke="#7e1a2c" stroke-width="1.1"/>
<circle cx="190.7" cy="345.2" r="2.05" fill="#ffffff" stroke="#82222f" stroke-width="1.1"/>
<circle cx="184.5" cy="352.1" r="2.05" fill="#ffffff" stroke="#82222f" stroke-width="1.1"/>
<circle cx="190.7" cy="352.1" r="2.05" fill="#ffffff" stroke="#82222f" stroke-width="1.1"/>
<circle cx="196.9" cy="349.8" r="2.05" fill="#ffffff" stroke="#82222f" stroke-width="1.1"/>
<circle cx="190.7" cy="369.3" r="2.05" fill="#ffffff" stroke="#82222f" stroke-width="1.1"/>
<line x1="234.80" y1="296.40" x2="234.80" y2="376.43" stroke="#262626" stroke-width="1.25"/>
<line x1="234.18" y1="375.80" x2="318.10" y2="375.80" stroke="#262626" stroke-width="1.25"/>
<line x1="233.00" y1="296.40" x2="234.80" y2="296.40" stroke="#262626" stroke-width="1.0"/>
<text x="231.90" y="299.40" font-size="8.0" text-anchor="end" font-weight="normal" fill="#161616" stroke="#161616" stroke-width="0.15" >100</text>
<line x1="233.00" y1="312.28" x2="234.80" y2="312.28" stroke="#262626" stroke-width="1.0"/>
<text x="231.90" y="315.28" font-size="8.0" text-anchor="end" font-weight="normal" fill="#161616" stroke="#161616" stroke-width="0.15" >80</text>
<line x1="233.00" y1="328.16" x2="234.80" y2="328.16" stroke="#262626" stroke-width="1.0"/>
<text x="231.90" y="331.16" font-size="8.0" text-anchor="end" font-weight="normal" fill="#161616" stroke="#161616" stroke-width="0.15" >60</text>
<line x1="233.00" y1="344.04" x2="234.80" y2="344.04" stroke="#262626" stroke-width="1.0"/>
<text x="231.90" y="347.04" font-size="8.0" text-anchor="end" font-weight="normal" fill="#161616" stroke="#161616" stroke-width="0.15" >40</text>
<line x1="233.00" y1="359.92" x2="234.80" y2="359.92" stroke="#262626" stroke-width="1.0"/>
<text x="231.90" y="362.92" font-size="8.0" text-anchor="end" font-weight="normal" fill="#161616" stroke="#161616" stroke-width="0.15" >20</text>
<line x1="233.00" y1="375.80" x2="234.80" y2="375.80" stroke="#262626" stroke-width="1.0"/>
<text x="231.90" y="378.80" font-size="8.0" text-anchor="end" font-weight="normal" fill="#161616" stroke="#161616" stroke-width="0.15" >0</text>
<text x="267.50" y="281.80" font-size="9.7" text-anchor="middle" font-weight="normal" fill="#161616" stroke="#161616" stroke-width="0.3" >CD8<tspan font-size="7" dy="-2.6">+</tspan><tspan dy="2.6"> T cells</tspan></text>
<line x1="251.20" y1="295.90" x2="296.30" y2="295.90" stroke="#262626" stroke-width="1.25"/>
<line x1="251.20" y1="293.60" x2="251.20" y2="298.20" stroke="#262626" stroke-width="1.0"/>
<line x1="296.30" y1="293.60" x2="296.30" y2="298.20" stroke="#262626" stroke-width="1.0"/>
<text x="273.30" y="294.02" font-size="7.6" text-anchor="middle" font-weight="bold" fill="#161616" stroke="#161616" stroke-width="0.3" >*</text>
<text x="277.30" y="294.02" font-size="7.6" text-anchor="middle" font-weight="bold" fill="#161616" stroke="#161616" stroke-width="0.3" >*</text>
<text x="256.80" y="388.26" font-size="8.5" text-anchor="middle" font-weight="normal" fill="#161616" stroke="#161616" stroke-width="0.3" >-</text>
<text x="298.10" y="388.12" font-size="7.6" text-anchor="middle" font-weight="normal" fill="#161616" stroke="#161616" stroke-width="0.3" >+</text>
<line x1="242.00" y1="364.30" x2="269.60" y2="364.30" stroke="#262626" stroke-width="1.25"/>
<line x1="248.20" y1="361.40" x2="262.70" y2="361.40" stroke="#262626" stroke-width="1.25"/>
<line x1="248.70" y1="366.70" x2="262.40" y2="366.70" stroke="#262626" stroke-width="1.25"/>
<line x1="255.80" y1="361.40" x2="255.80" y2="366.70" stroke="#262626" stroke-width="1.25"/>
<path d="M253.30,351.90L255.30,348.10L257.30,351.90Z" fill="#8a8a8a"/>
<path d="M242.10,363.80L244.10,360.00L246.10,363.80Z" fill="#8a8a8a"/>
<path d="M265.00,364.30L267.00,360.50L269.00,364.30Z" fill="#121212"/>
<path d="M251.30,366.90L253.30,363.10L255.30,366.90Z" fill="#121212"/>
<path d="M253.80,365.90L255.80,362.10L257.80,365.90Z" fill="#8a8a8a"/>
<path d="M256.20,369.20L258.20,365.40L260.20,369.20Z" fill="#121212"/>
<path d="M250.20,375.80L252.20,372.00L254.20,375.80Z" fill="#121212"/>
<path d="M256.40,375.60L258.40,371.80L260.40,375.60Z" fill="#8a8a8a"/>
<line x1="283.90" y1="345.70" x2="311.30" y2="345.70" stroke="#262626" stroke-width="1.25"/>
<line x1="290.70" y1="341.30" x2="304.60" y2="341.30" stroke="#262626" stroke-width="1.25"/>
<line x1="290.70" y1="350.20" x2="304.60" y2="350.20" stroke="#262626" stroke-width="1.25"/>
<line x1="297.30" y1="341.30" x2="297.30" y2="350.20" stroke="#262626" stroke-width="1.25"/>
<circle cx="297.3" cy="317.5" r="2.05" fill="#e46474" stroke="#7e1a2c" stroke-width="1.1"/>
<circle cx="297.3" cy="330.5" r="2.05" fill="#e46474" stroke="#7e1a2c" stroke-width="1.1"/>
<circle cx="297.3" cy="340" r="2.05" fill="#e46474" stroke="#7e1a2c" stroke-width="1.1"/>
<circle cx="301.1" cy="341.8" r="2.05" fill="#e46474" stroke="#7e1a2c" stroke-width="1.1"/>
<circle cx="293.9" cy="347.1" r="2.05" fill="#ffffff" stroke="#82222f" stroke-width="1.1"/>
<circle cx="288" cy="350.2" r="2.05" fill="#ffffff" stroke="#82222f" stroke-width="1.1"/>
<circle cx="294.3" cy="353.2" r="2.05" fill="#e46474" stroke="#7e1a2c" stroke-width="1.1"/>
<circle cx="300.5" cy="353.8" r="2.05" fill="#ffffff" stroke="#82222f" stroke-width="1.1"/>
<circle cx="306.4" cy="352.5" r="2.05" fill="#ffffff" stroke="#82222f" stroke-width="1.1"/>
<circle cx="297.3" cy="368.9" r="2.05" fill="#ffffff" stroke="#82222f" stroke-width="1.1"/>
<line x1="335.20" y1="296.40" x2="335.20" y2="377.23" stroke="#262626" stroke-width="1.25"/>
<line x1="334.57" y1="376.60" x2="420.80" y2="376.60" stroke="#262626" stroke-width="1.25"/>
<line x1="333.40" y1="296.40" x2="335.20" y2="296.40" stroke="#262626" stroke-width="1.0"/>
<text x="332.30" y="299.40" font-size="8.0" text-anchor="end" font-weight="normal" fill="#161616" stroke="#161616" stroke-width="0.15" >100</text>
<line x1="333.40" y1="312.44" x2="335.20" y2="312.44" stroke="#262626" stroke-width="1.0"/>
<text x="332.30" y="315.44" font-size="8.0" text-anchor="end" font-weight="normal" fill="#161616" stroke="#161616" stroke-width="0.15" >80</text>
<line x1="333.40" y1="328.48" x2="335.20" y2="328.48" stroke="#262626" stroke-width="1.0"/>
<text x="332.30" y="331.48" font-size="8.0" text-anchor="end" font-weight="normal" fill="#161616" stroke="#161616" stroke-width="0.15" >60</text>
<line x1="333.40" y1="344.52" x2="335.20" y2="344.52" stroke="#262626" stroke-width="1.0"/>
<text x="332.30" y="347.52" font-size="8.0" text-anchor="end" font-weight="normal" fill="#161616" stroke="#161616" stroke-width="0.15" >40</text>
<line x1="333.40" y1="360.56" x2="335.20" y2="360.56" stroke="#262626" stroke-width="1.0"/>
<text x="332.30" y="363.56" font-size="8.0" text-anchor="end" font-weight="normal" fill="#161616" stroke="#161616" stroke-width="0.15" >20</text>
<line x1="333.40" y1="376.60" x2="335.20" y2="376.60" stroke="#262626" stroke-width="1.0"/>
<text x="332.30" y="379.60" font-size="8.0" text-anchor="end" font-weight="normal" fill="#161616" stroke="#161616" stroke-width="0.15" >0</text>
<text x="367.20" y="279.90" font-size="9.7" text-anchor="middle" font-weight="normal" fill="#161616" stroke="#161616" stroke-width="0.3" >Monocytes</text>
<line x1="355.60" y1="295.90" x2="396.90" y2="295.90" stroke="#262626" stroke-width="1.25"/>
<line x1="355.60" y1="293.60" x2="355.60" y2="298.20" stroke="#262626" stroke-width="1.0"/>
<line x1="396.90" y1="293.60" x2="396.90" y2="298.20" stroke="#262626" stroke-width="1.0"/>
<text x="375.10" y="294.02" font-size="7.6" text-anchor="middle" font-weight="bold" fill="#161616" stroke="#161616" stroke-width="0.3" >*</text>
<text x="379.10" y="294.02" font-size="7.6" text-anchor="middle" font-weight="bold" fill="#161616" stroke="#161616" stroke-width="0.3" >*</text>
<text x="356.80" y="388.66" font-size="8.5" text-anchor="middle" font-weight="normal" fill="#161616" stroke="#161616" stroke-width="0.3" >-</text>
<text x="398.50" y="389.22" font-size="7.6" text-anchor="middle" font-weight="normal" fill="#161616" stroke="#161616" stroke-width="0.3" >+</text>
<line x1="342.30" y1="363.40" x2="370.50" y2="363.40" stroke="#262626" stroke-width="1.25"/>
<line x1="349.20" y1="354.80" x2="364.10" y2="354.80" stroke="#262626" stroke-width="1.25"/>
<line x1="349.20" y1="372.00" x2="364.10" y2="372.00" stroke="#262626" stroke-width="1.25"/>
<line x1="356.70" y1="354.80" x2="356.70" y2="372.00" stroke="#262626" stroke-width="1.25"/>
<path d="M354.70,346.10L356.70,342.30L358.70,346.10Z" fill="#121212"/>
<path d="M355.00,360.50L357.00,356.70L359.00,360.50Z" fill="#8a8a8a"/>
<path d="M348.60,364.70L350.60,360.90L352.60,364.70Z" fill="#121212"/>
<path d="M360.40,364.10L362.40,360.30L364.40,364.10Z" fill="#121212"/>
<path d="M355.00,367.70L357.00,363.90L359.00,367.70Z" fill="#8a8a8a"/>
<path d="M363.50,369.30L365.50,365.50L367.50,369.30Z" fill="#8a8a8a"/>
<path d="M345.50,371.40L347.50,367.60L349.50,371.40Z" fill="#8a8a8a"/>
<path d="M357.50,372.50L359.50,368.70L361.50,372.50Z" fill="#8a8a8a"/>
<path d="M351.60,374.80L353.60,371.00L355.60,374.80Z" fill="#121212"/>
<line x1="385.70" y1="337.60" x2="413.30" y2="337.60" stroke="#262626" stroke-width="1.25"/>
<line x1="392.60" y1="316.00" x2="406.40" y2="316.00" stroke="#262626" stroke-width="1.25"/>
<line x1="392.60" y1="357.80" x2="405.70" y2="357.80" stroke="#262626" stroke-width="1.25"/>
<line x1="399.10" y1="316.00" x2="399.10" y2="357.80" stroke="#262626" stroke-width="1.25"/>
<circle cx="396.1" cy="302.6" r="2.05" fill="#e46474" stroke="#7e1a2c" stroke-width="1.1"/>
<circle cx="402.3" cy="300.3" r="2.05" fill="#e46474" stroke="#7e1a2c" stroke-width="1.1"/>
<circle cx="396.1" cy="329.5" r="2.05" fill="#e46474" stroke="#7e1a2c" stroke-width="1.1"/>
<circle cx="402.3" cy="332.5" r="2.05" fill="#e46474" stroke="#7e1a2c" stroke-width="1.1"/>
<circle cx="402.3" cy="341" r="2.05" fill="#ffffff" stroke="#82222f" stroke-width="1.1"/>
<circle cx="396.1" cy="343.3" r="2.05" fill="#e46474" stroke="#7e1a2c" stroke-width="1.1"/>
<circle cx="399.1" cy="351.6" r="2.05" fill="#ffffff" stroke="#82222f" stroke-width="1.1"/>
<circle cx="393.3" cy="353.9" r="2.05" fill="#ffffff" stroke="#82222f" stroke-width="1.1"/>
<circle cx="405.3" cy="356.7" r="2.05" fill="#ffffff" stroke="#82222f" stroke-width="1.1"/>
<circle cx="399.1" cy="359" r="2.05" fill="#ffffff" stroke="#82222f" stroke-width="1.1"/>
<line x1="436.40" y1="297.40" x2="436.40" y2="377.43" stroke="#262626" stroke-width="1.25"/>
<line x1="435.77" y1="376.80" x2="519.50" y2="376.80" stroke="#262626" stroke-width="1.25"/>
<line x1="434.60" y1="297.40" x2="436.40" y2="297.40" stroke="#262626" stroke-width="1.0"/>
<text x="433.50" y="300.40" font-size="8.0" text-anchor="end" font-weight="normal" fill="#161616" stroke="#161616" stroke-width="0.15" >80</text>
<line x1="434.60" y1="317.20" x2="436.40" y2="317.20" stroke="#262626" stroke-width="1.0"/>
<text x="433.50" y="320.20" font-size="8.0" text-anchor="end" font-weight="normal" fill="#161616" stroke="#161616" stroke-width="0.15" >60</text>
<line x1="434.60" y1="337.00" x2="436.40" y2="337.00" stroke="#262626" stroke-width="1.0"/>
<text x="433.50" y="340.00" font-size="8.0" text-anchor="end" font-weight="normal" fill="#161616" stroke="#161616" stroke-width="0.15" >40</text>
<line x1="434.60" y1="356.80" x2="436.40" y2="356.80" stroke="#262626" stroke-width="1.0"/>
<text x="433.50" y="359.80" font-size="8.0" text-anchor="end" font-weight="normal" fill="#161616" stroke="#161616" stroke-width="0.15" >20</text>
<line x1="434.60" y1="376.60" x2="436.40" y2="376.60" stroke="#262626" stroke-width="1.0"/>
<text x="433.50" y="379.60" font-size="8.0" text-anchor="end" font-weight="normal" fill="#161616" stroke="#161616" stroke-width="0.15" >0</text>
<text x="472.10" y="279.90" font-size="9.7" text-anchor="middle" font-weight="normal" fill="#161616" stroke="#161616" stroke-width="0.3" >Neutrophils</text>
<line x1="452.70" y1="297.40" x2="494.00" y2="297.40" stroke="#262626" stroke-width="1.25"/>
<line x1="452.70" y1="295.10" x2="452.70" y2="299.70" stroke="#262626" stroke-width="1.0"/>
<line x1="494.00" y1="295.10" x2="494.00" y2="299.70" stroke="#262626" stroke-width="1.0"/>
<text x="470.10" y="295.32" font-size="7.6" text-anchor="middle" font-weight="bold" fill="#161616" stroke="#161616" stroke-width="0.3" >*</text>
<text x="474.10" y="295.32" font-size="7.6" text-anchor="middle" font-weight="bold" fill="#161616" stroke="#161616" stroke-width="0.3" >*</text>
<text x="478.10" y="295.32" font-size="7.6" text-anchor="middle" font-weight="bold" fill="#161616" stroke="#161616" stroke-width="0.3" >*</text>
<text x="457.90" y="388.66" font-size="8.5" text-anchor="middle" font-weight="normal" fill="#161616" stroke="#161616" stroke-width="0.3" >-</text>
<text x="499.60" y="389.02" font-size="7.6" text-anchor="middle" font-weight="normal" fill="#161616" stroke="#161616" stroke-width="0.3" >+</text>
<line x1="443.60" y1="366.00" x2="470.80" y2="366.00" stroke="#262626" stroke-width="1.25"/>
<line x1="449.80" y1="363.75" x2="464.10" y2="363.75" stroke="#262626" stroke-width="1.25"/>
<line x1="449.40" y1="368.00" x2="464.30" y2="368.00" stroke="#262626" stroke-width="1.25"/>
<line x1="457.40" y1="363.75" x2="457.40" y2="368.00" stroke="#262626" stroke-width="1.25"/>
<path d="M455.10,354.00L457.10,350.20L459.10,354.00Z" fill="#8a8a8a"/>
<path d="M443.50,364.60L445.50,360.80L447.50,364.60Z" fill="#121212"/>
<path d="M466.80,365.80L468.80,362.00L470.80,365.80Z" fill="#121212"/>
<path d="M450.50,367.00L452.50,363.20L454.50,367.00Z" fill="#8a8a8a"/>
<path d="M455.40,367.40L457.40,363.60L459.40,367.40Z" fill="#8a8a8a"/>
<path d="M461.90,369.20L463.90,365.40L465.90,369.20Z" fill="#121212"/>
<path d="M458.40,373.20L460.40,369.40L462.40,373.20Z" fill="#8a8a8a"/>
<path d="M452.10,376.80L454.10,373.00L456.10,376.80Z" fill="#121212"/>
<line x1="485.40" y1="337.50" x2="512.10" y2="337.50" stroke="#262626" stroke-width="1.25"/>
<line x1="492.10" y1="332.50" x2="505.40" y2="332.50" stroke="#262626" stroke-width="1.25"/>
<line x1="491.60" y1="342.30" x2="505.40" y2="342.30" stroke="#262626" stroke-width="1.25"/>
<line x1="497.90" y1="332.50" x2="497.90" y2="342.30" stroke="#262626" stroke-width="1.25"/>
<circle cx="498.4" cy="308.4" r="2.05" fill="#e46474" stroke="#7e1a2c" stroke-width="1.1"/>
<circle cx="498.4" cy="317.9" r="2.05" fill="#e46474" stroke="#7e1a2c" stroke-width="1.1"/>
<circle cx="504.6" cy="328" r="2.05" fill="#ffffff" stroke="#82222f" stroke-width="1.1"/>
<circle cx="492.1" cy="332.5" r="2.05" fill="#e46474" stroke="#7e1a2c" stroke-width="1.1"/>
<circle cx="497.9" cy="334.3" r="2.05" fill="#e46474" stroke="#7e1a2c" stroke-width="1.1"/>
<circle cx="495.2" cy="344.1" r="2.05" fill="#ffffff" stroke="#82222f" stroke-width="1.1"/>
<circle cx="498.8" cy="342.9" r="2.05" fill="#ffffff" stroke="#82222f" stroke-width="1.1"/>
<circle cx="501.4" cy="350.4" r="2.05" fill="#ffffff" stroke="#82222f" stroke-width="1.1"/>
<circle cx="495.2" cy="357.5" r="2.05" fill="#ffffff" stroke="#82222f" stroke-width="1.1"/>
<circle cx="501.4" cy="356.6" r="2.05" fill="#e46474" stroke="#7e1a2c" stroke-width="1.1"/>
<text x="0.60" y="8.90" font-size="11.3" text-anchor="start" font-weight="bold" fill="#161616" stroke="#161616" stroke-width="0.3" >A</text>
<text x="0.60" y="140.20" font-size="11.3" text-anchor="start" font-weight="bold" fill="#161616" stroke="#161616" stroke-width="0.3" >B</text>
<text x="257.80" y="140.60" font-size="11.3" text-anchor="start" font-weight="bold" fill="#161616" stroke="#161616" stroke-width="0.3" >C</text>
<text x="1.00" y="282.00" font-size="11.3" text-anchor="start" font-weight="bold" fill="#161616" stroke="#161616" stroke-width="0.3" >D</text>
<text x="5.60" y="122.60" font-size="8.9" text-anchor="start" font-weight="normal" fill="#161616" stroke="#161616" stroke-width="0.3" >Rapa</text>
<text x="8.50" y="261.20" font-size="8.7" text-anchor="start" font-weight="normal" fill="#161616" stroke="#161616" stroke-width="0.3" >Rapa</text>
<text x="9.90" y="388.90" font-size="8.7" text-anchor="start" font-weight="normal" fill="#161616" stroke="#161616" stroke-width="0.3" >Rapa</text>
<text x="0.00" y="0.00" font-size="8.2" text-anchor="middle" font-weight="normal" fill="#161616" stroke="#161616" stroke-width="0.1" transform="translate(20.2,65.4) rotate(-90)">% Donor derived</text>
<text x="0.00" y="0.00" font-size="8.4" text-anchor="middle" font-weight="normal" fill="#161616" stroke="#161616" stroke-width="0.1" transform="translate(17.9,202) rotate(-90)">% EGFP</text>
<text x="0.00" y="0.00" font-size="8.2" text-anchor="middle" font-weight="normal" fill="#161616" stroke="#161616" stroke-width="0.1" transform="translate(271.2,197.9) rotate(-90)">LV copy number</text>
<text x="0.00" y="0.00" font-size="8.5" text-anchor="middle" font-weight="normal" fill="#161616" stroke="#161616" stroke-width="0.1" transform="translate(6.2,335.2) rotate(-90)">% EGFP</text>
</svg>
</body></html>
